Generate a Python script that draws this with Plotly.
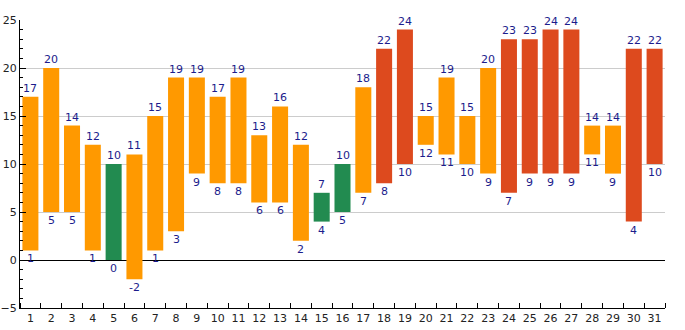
import plotly.graph_objects as go

days = list(range(1, 32))
lows = [1, 5, 5, 1, 0, -2, 1, 3, 9, 8, 8, 6, 6, 2, 4, 5, 7, 8, 10, 12, 11, 10, 9, 7, 9, 9, 9, 11, 9, 4, 10]
highs = [17, 20, 14, 12, 10, 11, 15, 19, 19, 17, 19, 13, 16, 12, 7, 10, 18, 22, 24, 15, 19, 15, 20, 23, 23, 24, 24, 14, 14, 22, 22]

ORANGE = "#ff9900"
GREEN = "#228b50"
RED = "#dd4a1e"


def color_for(h):
    if h <= 10:
        return GREEN
    if h >= 22:
        return RED
    return ORANGE


colors = [color_for(h) for h in highs]
label_color = "#1c1c8c"
font_family = "DejaVu Sans, sans-serif"

fig = go.Figure()
fig.add_trace(go.Bar(
    x=days,
    y=[h - l for h, l in zip(highs, lows)],
    base=lows,
    marker=dict(color=colors, line=dict(width=0)),
    width=0.77,
    hoverinfo="skip",
))

annotations = []
for d, h, l in zip(days, highs, lows):
    annotations.append(dict(x=d, y=h, text=str(h), showarrow=False,
                            xanchor="center", yanchor="bottom", yshift=0,
                            font=dict(color=label_color, size=11, family=font_family)))
    annotations.append(dict(x=d, y=l, text=str(l), showarrow=False,
                            xanchor="center", yanchor="top", yshift=0,
                            font=dict(color=label_color, size=11, family=font_family)))

fig.update_layout(
    width=685, height=330,
    margin=dict(l=20, r=20, t=20, b=22),
    paper_bgcolor="white", plot_bgcolor="white",
    showlegend=False,
    annotations=annotations,
    font=dict(family=font_family, size=11, color="#222222"),
    xaxis=dict(
        range=[0.5, 31.5],
        automargin=False,
        tickvals=days,
        ticktext=[str(d) for d in days],
        ticks="",
        showgrid=False,
        zeroline=False,
        showline=True, linecolor="black", linewidth=1,
        minor=dict(tickvals=[d + 0.5 for d in range(0, 32)], ticks="inside",
                   ticklen=5, tickcolor="black", showgrid=False),
        tickfont=dict(size=11, color="#222222"),
        fixedrange=True,
    ),
    yaxis=dict(
        range=[-5, 25],
        automargin=False,
        tickvals=[-5, 0, 5, 10, 15, 20, 25],
        ticks="inside", ticklen=6, tickcolor="black",
        showgrid=True, gridcolor="#cccccc", gridwidth=1,
        zeroline=True, zerolinecolor="black", zerolinewidth=1,
        showline=True, linecolor="black", linewidth=1,
        minor=dict(dtick=1, tick0=0, ticks="inside", ticklen=3,
                   tickcolor="black", showgrid=False),
        tickfont=dict(size=11, color="#222222"),
        fixedrange=True,
    ),
)

fig.write_html("out.html")
